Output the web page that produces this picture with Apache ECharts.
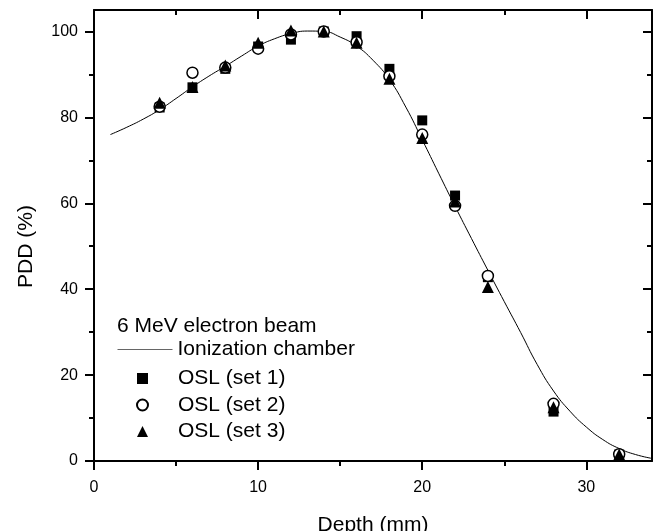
<!DOCTYPE html>
<html>
<head>
<meta charset="utf-8">
<script src="https://cdn.jsdelivr.net/npm/echarts@6/dist/echarts.min.js"></script>
<style>
  html, body { margin: 0; padding: 0; background: #fff; }
  #chart { width: 656px; height: 531px; }
</style>
</head>
<body>
<div id="chart"></div>
<script>
// ionization chamber curve
const depthCurve = [1, 2, 3, 4, 5, 6, 7, 8, 9, 10, 11, 12, 13, 14, 15, 16, 17, 18, 19, 20,
  21, 22, 23, 24, 25, 26, 27, 28, 29, 30, 31, 32, 33, 34];
const pddChamber = [76.0, 77.7, 79.6, 81.8, 84.4, 87.1, 89.6, 91.9, 94.3, 96.6, 98.3, 99.5, 100.1, 100.0,
  98.7, 96.6, 93.3, 88.8, 82.4, 74.8, 67.0, 59.3, 51.8, 44.4, 37.1, 29.9, 22.5, 16.3, 11.6, 7.9,
  5.0, 2.9, 1.5, 0.6];

// OSL measurements
const depthOsl = [4, 6, 8, 10, 12, 14, 16, 18, 20, 22, 24, 28, 32];
const oslSet1 = [82.3, 87.0, 91.3, 96.5, 98.1, 100.0, 98.9, 91.3, 79.3, 61.8, 42.8, 11.5, 1.5];
const oslSet2 = [82.5, 90.4, 91.6, 96.0, 99.3, 100.0, 97.5, 89.6, 76.0, 59.4, 43.1, 13.3, 1.6];
const oslSet3 = [83.4, 87.1, 92.1, 97.4, 100.2, 100.0, 97.4, 89.0, 75.2, 60.4, 40.5, 12.5, 1.5];

const xMajor = [0, 10, 20, 30];
const xMinor = [5, 15, 25];
const yMajor = [0, 20, 40, 60, 80, 100];
const yMinor = [10, 30, 50, 70, 90];

const FONT = '"Liberation Sans", Arial, Helvetica, sans-serif';
const INK = '#000';

function pairs(xs, ys) {
  return xs.map((x, i) => [x, ys[i]]);
}

// one axis per tick set: major/minor drawn by overlaid axes
function axis(kind, position, ticks, opts = {}) {
  const isX = kind === 'x';
  return Object.assign({
    type: 'value',
    min: 0,
    max: isX ? 34 : 105,
    position,
    axisLine: { show: !!opts.line, onZero: false, lineStyle: { color: INK, width: 2 } },
    axisTick: {
      show: true,
      inside: !!opts.inside,
      length: opts.major ? 9 : 5,
      customValues: ticks,
      lineStyle: { color: INK, width: 2 }
    },
    axisLabel: { show: false },
    splitLine: { show: false }
  }, opts.extra || {});
}

const chart = echarts.init(document.getElementById('chart'));

chart.setOption({
  animation: false,
  backgroundColor: '#fff',
  grid: { left: 94, right: 4, top: 10, bottom: 70, outerBoundsMode: 'none', containLabel: false },
  title: {
    text: '6 MeV electron beam',
    left: 117,
    top: 316,
    padding: 0,
    textStyle: { fontSize: 21, fontWeight: 'normal', color: INK, fontFamily: FONT }
  },
  legend: [
    {
      data: ['Ionization chamber'],
      left: 117,
      top: 339,
      padding: 0,
      itemWidth: 55,
      itemHeight: 10,
      selectedMode: false,
      itemStyle: { color: 'rgba(0,0,0,0)', borderWidth: 0 },
      lineStyle: { color: '#666', width: 1 },
      textStyle: { fontSize: 21, color: INK, fontFamily: FONT }
    },
    {
      data: ['OSL (set 1)', 'OSL (set 2)', 'OSL (set 3)'],
      orient: 'vertical',
      left: 136,
      top: 368,
      padding: 0,
      itemWidth: 11,
      itemHeight: 11,
      itemGap: 5.5,
      selectedMode: false,
      formatter: name => '{g| }' + name,
      textStyle: { fontSize: 21, color: INK, fontFamily: FONT, rich: { g: { width: 25 } } }
    }
  ],
  xAxis: [
    axis('x', 'bottom', xMajor, {
      major: true, line: true,
      extra: {
        axisLabel: { show: true, customValues: xMajor, color: INK, fontSize: 16, fontFamily: FONT, margin: 19 },
        name: 'Depth (mm)',
        nameLocation: 'middle',
        nameGap: 54,
        nameTextStyle: { color: INK, fontSize: 21, fontFamily: FONT }
      }
    }),
    axis('x', 'bottom', xMinor),
    axis('x', 'top', xMajor, { major: true, line: true, inside: true }),
    axis('x', 'top', xMinor, { inside: true })
  ],
  yAxis: [
    axis('y', 'left', yMajor, {
      major: true, line: true,
      extra: {
        axisLabel: { show: true, customValues: yMajor, color: INK, fontSize: 16, fontFamily: FONT, margin: 16 },
        name: 'PDD (%)',
        nameLocation: 'middle',
        nameGap: 57,
        nameTextStyle: { color: INK, fontSize: 21, fontFamily: FONT, padding: [0, 22, 0, 0] }
      }
    }),
    axis('y', 'left', yMinor),
    axis('y', 'right', yMajor, { major: true, line: true, inside: true }),
    axis('y', 'right', yMinor, { inside: true })
  ],
  series: [
    {
      name: 'Ionization chamber',
      type: 'line',
      data: pairs(depthCurve, pddChamber),
      smooth: true,
      symbol: 'none',
      lineStyle: { color: INK, width: 1 },
      z: 1
    },
    {
      name: 'OSL (set 1)',
      type: 'scatter',
      data: pairs(depthOsl, oslSet1),
      symbol: 'rect',
      symbolSize: 10,
      itemStyle: { color: INK, opacity: 1 },
      z: 2
    },
    {
      name: 'OSL (set 2)',
      type: 'scatter',
      data: pairs(depthOsl, oslSet2),
      symbol: 'circle',
      symbolSize: 11,
      itemStyle: { color: '#fff', borderColor: INK, borderWidth: 1.5, opacity: 1 },
      z: 3
    },
    {
      name: 'OSL (set 3)',
      type: 'scatter',
      data: pairs(depthOsl, oslSet3),
      symbol: 'triangle',
      symbolSize: 12,
      itemStyle: { color: INK, opacity: 1 },
      z: 4
    }
  ]
});

window.addEventListener('resize', () => chart.resize());
</script>
</body>
</html>
